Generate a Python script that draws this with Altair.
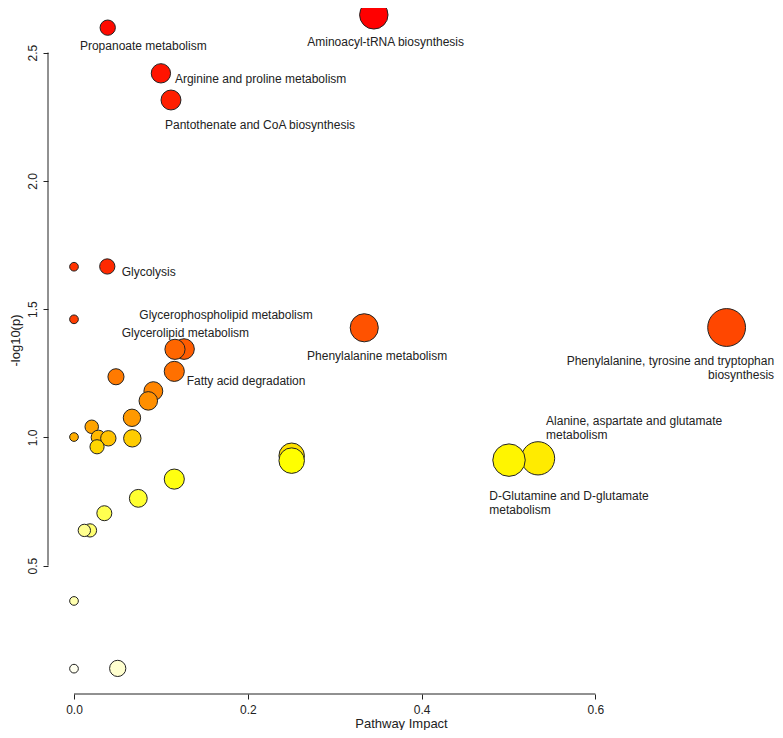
import colorsys
import altair as alt
import pandas as pd

# ---- data ----
impact = [0.345, 0.0388, 0.100, 0.1116, 0.0383, 0.0, 0.0, 0.751, 0.334, 0.1266,
          0.1162, 0.1154, 0.0483, 0.0913, 0.0855, 0.0667, 0.0204, 0.0, 0.028, 0.0395,
          0.0671, 0.0265, 0.2505, 0.534, 0.5006, 0.2505, 0.1154, 0.074, 0.0349, 0.0184,
          0.0119, 0.0, 0.0503, 0.0]
logp = [2.647, 2.597, 2.419, 2.315, 1.666, 1.665, 1.460, 1.428, 1.427, 1.344,
        1.343, 1.257, 1.236, 1.180, 1.142, 1.076, 1.041, 1.001, 1.000, 0.996,
        0.996, 0.963, 0.928, 0.918, 0.911, 0.909, 0.837, 0.762, 0.704, 0.637,
        0.637, 0.362, 0.099, 0.098]
names = ["Aminoacyl-tRNA biosynthesis", "Propanoate metabolism",
         "Arginine and proline metabolism", "Pantothenate and CoA biosynthesis",
         "Glycolysis", "", "", "Phenylalanine, tyrosine and tryptophan\nbiosynthesis",
         "Phenylalanine metabolism", "Glycerophospholipid metabolism",
         "Glycerolipid metabolism", "Fatty acid degradation", "", "", "", "", "", "", "", "",
         "", "", "", "Alanine, aspartate and glutamate\nmetabolism",
         "D-Glutamine and D-glutamate\nmetabolism", "", "", "", "", "", "", "", "", ""]
x_ticks = [0.0, 0.2, 0.4, 0.6]
y_ticks = [0.5, 1.0, 1.5, 2.0, 2.5]

df = pd.DataFrame({"impact": impact, "logp": logp, "name": names})

# ---- styling ----
W, H = 727, 676
FONT = "Liberation Sans"
INK = "#222222"

# R heat.colors palette by significance rank
n = len(logp)
j = n // 4
i = n - j
pal = []
for k in range(i):
    r, g, b = colorsys.hsv_to_rgb((k / (i - 1)) / 6.0, 1, 1)
    pal.append("#%02x%02x%02x" % (round(r * 255), round(g * 255), round(b * 255)))
for k in range(j):
    s0, s1 = 1 - 1 / (2 * j), 1 / (2 * j)
    s = s0 + (s1 - s0) * k / (j - 1)
    r, g, b = colorsys.hsv_to_rgb(1 / 6.0, s, 1)
    pal.append("#%02x%02x%02x" % (round(r * 255), round(g * 255), round(b * 255)))

xs = alt.Scale(domain=[-0.02992, 0.80667], nice=False, zero=False)
ys = alt.Scale(domain=[-0.0008, 2.6347], nice=False, zero=False)

base = alt.Chart(df)

points = base.transform_window(
    rank="row_number()", sort=[alt.SortField("logp", order="descending")]
).transform_calculate(
    d="8.7 + 33.6 * sqrt(datum.impact)", s="datum.d * datum.d"
).mark_circle(opacity=1, stroke=INK, strokeWidth=1).encode(
    x=alt.X("impact:Q", scale=xs,
            axis=alt.Axis(values=x_ticks, format=".1f", domain=False, grid=False,
                          tickSize=5, tickColor=INK, labelColor=INK, labelFont=FONT,
                          labelFontSize=12, labelPadding=5, title="Pathway Impact",
                          titleFont=FONT, titleFontSize=13, titleFontWeight="normal",
                          titleColor=INK, titleX=353, titleY=29.5,
                          titleBaseline="middle", titleAlign="center")),
    y=alt.Y("logp:Q", scale=ys,
            axis=alt.Axis(values=y_ticks, format=".1f", domain=False, grid=False,
                          tickSize=5, tickColor=INK, labelColor=INK, labelFont=FONT,
                          labelFontSize=12, labelAngle=-90, labelAlign="center",
                          labelBaseline="bottom", labelPadding=3.5,
                          title="-log10(p)", titleFont=FONT, titleFontSize=13,
                          titleFontWeight="normal", titleColor=INK, titleX=-33,
                          titleY=322, titleBaseline="middle", titleAlign="center")),
    color=alt.Color("rank:O", scale=alt.Scale(domain=list(range(1, n + 1)), range=pal),
                    legend=None),
    size=alt.Size("s:Q", scale=None),
    order=alt.Order("rank:Q"),
)

xline = alt.Chart(pd.DataFrame({"a": [x_ticks[0]], "b": [x_ticks[-1]]})).mark_rule(
    color=INK, strokeWidth=1).encode(
    x=alt.X("a:Q", scale=xs), x2="b:Q", y=alt.value(H))
yline = alt.Chart(pd.DataFrame({"a": [y_ticks[0]], "b": [y_ticks[-1]]})).mark_rule(
    color=INK, strokeWidth=1).encode(
    y=alt.Y("a:Q", scale=ys), y2="b:Q", x=alt.value(0))

# label placement (align, dx, dy) relative to each point
place = {
    "Propanoate metabolism": ("center", 35.6, 13.1),
    "Aminoacyl-tRNA biosynthesis": ("center", 11.8, 22.5),
    "Arginine and proline metabolism": ("left", 14, 0.8),
    "Pantothenate and CoA biosynthesis": ("left", -6, 19.8),
    "Glycolysis": ("left", 14.4, 0.4),
    "Glycerophospholipid metabolism": ("left", -44.7, -38.7),
    "Glycerolipid metabolism": ("left", -53.3, -21.2),
    "Fatty acid degradation": ("left", 12.4, 4.5),
    "Phenylalanine metabolism": ("left", -57.2, 23.1),
    "Phenylalanine, tyrosine and tryptophan\nbiosynthesis": ("right", 47.5, 28.8),
    "Alanine, aspartate and glutamate\nmetabolism": ("left", 8, -42),
    "D-Glutamine and D-glutamate\nmetabolism": ("left", -19.7, 31.1),
}

labels = []
for nm, (al, dx, dy) in place.items():
    labels.append(
        base.transform_filter(alt.datum.name == nm).mark_text(
            align=al, baseline="top", dx=dx, dy=dy, lineBreak="\n", lineHeight=14,
            font=FONT, fontSize=12, color=INK
        ).encode(x=alt.X("impact:Q", scale=xs), y=alt.Y("logp:Q", scale=ys),
                 text="name:N")
    )

chart = alt.layer(xline, yline, points, *labels).properties(
    width=W, height=H,
    autosize=alt.AutoSizeParams(type="none"),
    padding={"left": 40, "top": 10, "right": 0, "bottom": 36},
    background="white",
).configure_view(stroke=None)

chart.save("out.html", embed_options={"renderer": "svg", "actions": False})
